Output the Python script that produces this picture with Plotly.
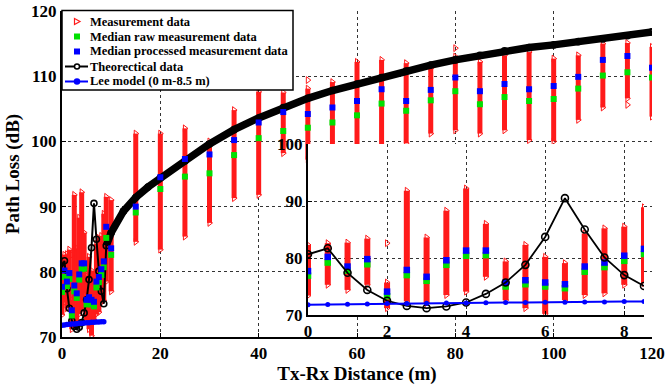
import plotly.graph_objects as go

# ---------------- data ----------------
near_d = [0, 0.5, 1.0, 1.5, 2.0, 2.5, 3.0, 3.5, 4.0, 4.5, 5.0, 5.5, 6.0, 6.5, 7.0, 7.5, 8.0, 8.5]
near_meas_max = [82.3, 82.6, 82.7, 83.4, 75.7, 91.8, 83.6, 88.3, 92.2, 86.0, 79.4, 82.3, 80.2, 79.1, 84.3, 85.2, 85.5, 88.9]
near_meas_min = [73.4, 75.3, 74.4, 75.3, 71.2, 72.4, 72.1, 73.5, 74.1, 76.7, 72.6, 71.2, 70.2, 72.6, 73.5, 73.8, 75.3, 75.6]
near_raw_median = [76.9, 79.2, 77.8, 78.9, 73.3, 77.0, 76.0, 78.8, 80.4, 80.5, 75.0, 75.4, 75.0, 74.7, 77.6, 78.4, 79.5, 80.7]
near_proc_median = [77.7, 80.2, 78.5, 79.8, 74.1, 77.9, 76.7, 79.6, 81.3, 81.3, 75.7, 76.1, 75.7, 75.4, 78.5, 79.2, 80.4, 81.6]
near_theory = [80.65, 81.7, 77.4, 74.4, 72.5, 71.6, 71.2, 71.5, 72.2, 73.7, 75.7, 78.8, 83.7, 90.5, 85.0, 80.1, 77.0, 75.1]
lee_model = [71.8, 71.85, 71.9, 71.95, 72.0, 72.0, 72.05, 72.1, 72.1, 72.15, 72.2, 72.2, 72.25, 72.25, 72.3, 72.3, 72.35, 72.35]

far_d = [9, 10, 15, 20, 25, 30, 35, 40, 45, 50, 55, 60, 65, 70, 75, 80, 85, 90, 95, 100, 105, 110, 115, 120]
far_meas_max = [91.5, 91.0, 101.2, 101.2, 102.0, 100.0, 104.8, 107.6, 107.5, 108.1, 109.1, 112.2, 112.5, 112.0, 111.2, 113.0, 112.2, 113.2, 113.7, 112.7, 113.2, 115.0, 115.1, 114.5]
far_meas_min = [78.5, 77.0, 84.6, 83.4, 85.4, 87.5, 91.3, 91.8, 98.2, 97.2, 98.0, 98.0, 98.5, 99.7, 101.2, 101.7, 101.2, 101.7, 100.2, 100.0, 103.3, 105.2, 106.6, 103.8]
far_raw_median = [85.2, 82.6, 89.1, 92.7, 94.6, 95.1, 97.9, 100.5, 101.6, 102.1, 102.9, 104.0, 105.8, 104.7, 106.3, 107.7, 105.7, 106.8, 106.2, 106.5, 108.1, 110.1, 110.6, 109.8]
far_proc_median = [86.9, 83.6, 90.0, 94.5, 97.3, 98.0, 100.2, 102.9, 104.5, 104.2, 105.2, 106.2, 108.0, 106.2, 107.9, 109.8, 107.7, 108.8, 108.0, 108.5, 109.9, 112.5, 113.1, 111.3]

outlier_d = [2.0, 50, 80, 115]
outlier_val = [82.6, 109.4, 114.3, 105.6]

theory_far_d = [9, 10, 12.5, 15, 17.5, 20, 25, 30, 35, 40, 45, 50, 55, 60, 65, 70, 75, 80, 85, 90, 95, 100, 105, 110, 115, 120]
theory_far = [84.0, 86.0, 89.3, 91.4, 93.0, 94.4, 97.0, 99.6, 101.8, 103.6, 105.2, 106.6, 107.8, 108.8, 109.8, 110.8, 111.7, 112.5, 113.2, 113.9, 114.4, 114.8, 115.3, 115.7, 116.2, 116.8]

x_ticks = [0, 20, 40, 60, 80, 100, 120]
y_ticks = [70, 80, 90, 100, 110, 120]
inset_x_ticks = [0, 2, 4, 6, 8]
inset_y_ticks = [70, 80, 90, 100]

legend_labels = ["Measurement data", "Median raw measurement data",
                 "Median processed measurement data", "Theorectical data",
                 "Lee model (0 m-8.5 m)"]

# ---------------- styling ----------------
RED = "#ff1a1a"
GREEN = "#00e000"
BLUE = "#0000ff"
FONT = "Liberation Serif"

W, H = 665, 388
ML, MR, MT, MB = 62, 13, 11, 51
PW = W - ML - MR
PH = H - MT - MB


def PX(x):
    return (x - ML) / PW


def PY(y):
    return (H - MB - y) / PH


def bar_xy(ds, lo, hi):
    xs, ys = [], []
    for d, a, b in zip(ds, lo, hi):
        xs += [d, d, None]
        ys += [a, b, None]
    return xs, ys


fig = go.Figure()


def add_set(xa, ya, bar_w, sq, circ, lee_sz, theory_w, main):
    all_d = near_d + (far_d if main else [])
    lo = near_meas_min + (far_meas_min if main else [])
    hi = near_meas_max + (far_meas_max if main else [])
    bx, by = bar_xy(all_d, lo, hi)
    fig.add_trace(go.Scatter(x=bx, y=by, mode="lines", xaxis=xa, yaxis=ya,
                             line=dict(color=RED, width=bar_w), showlegend=False,
                             hoverinfo="skip"))
    od = [d for d in outlier_d if (main or d <= 8.5)]
    ov = [v for d, v in zip(outlier_d, outlier_val) if (main or d <= 8.5)]
    fig.add_trace(go.Scatter(x=all_d + all_d + od, y=hi + lo + ov, mode="markers",
                             xaxis=xa, yaxis=ya, showlegend=False,
                             marker=dict(symbol="triangle-right-open", size=6,
                                         color=RED, line=dict(width=1, color=RED))))
    raw = near_raw_median + (far_raw_median if main else [])
    proc = near_proc_median + (far_proc_median if main else [])
    if main:
        fig.add_trace(go.Scatter(x=theory_far_d, y=theory_far, mode="lines",
                                 xaxis=xa, yaxis=ya, showlegend=False,
                                 line=dict(color="black", width=7.5)))
        tx = near_d + theory_far_d
        ty = near_theory + theory_far
        fig.add_trace(go.Scatter(x=tx, y=ty, mode="lines+markers", xaxis=xa, yaxis=ya,
                                 showlegend=False, line=dict(color="black", width=2),
                                 marker=dict(symbol="circle-open", size=circ,
                                             color="black", line=dict(width=1.6))))
    fig.add_trace(go.Scatter(x=all_d, y=raw, mode="markers", xaxis=xa, yaxis=ya,
                             showlegend=False,
                             marker=dict(symbol="square", size=sq, color=GREEN)))
    fig.add_trace(go.Scatter(x=all_d, y=proc, mode="markers", xaxis=xa, yaxis=ya,
                             showlegend=False,
                             marker=dict(symbol="square", size=sq, color=BLUE)))
    if not main:
        fig.add_trace(go.Scatter(x=near_d, y=near_theory, mode="lines+markers",
                                 xaxis=xa, yaxis=ya, showlegend=False,
                                 line=dict(color="black", width=theory_w),
                                 marker=dict(symbol="circle-open", size=circ,
                                             color="black", line=dict(width=1.6))))
    fig.add_trace(go.Scatter(x=near_d, y=lee_model, mode="lines+markers",
                             xaxis=xa, yaxis=ya, showlegend=False,
                             line=dict(color=BLUE, width=2),
                             marker=dict(symbol="circle", size=lee_sz, color=BLUE)))


add_set("x", "y", 5, 6, 6, 5.5, 2, True)
add_set("x2", "y2", 6, 6.5, 7, 5, 1.8, False)

tick_font = dict(family=FONT, size=17, color="black", weight="bold")
title_font = dict(family=FONT, size=19, color="black", weight="bold")
grid = dict(showgrid=True, gridcolor="#333333", griddash="dot", gridwidth=1.2)
common = dict(showline=True, linecolor="black", linewidth=2, ticks="inside",
              ticklen=4, tickcolor="black", zeroline=False, automargin=False,
              tickfont=tick_font)

fig.update_layout(
    width=W, height=H,
    margin=dict(l=ML, r=MR, t=MT, b=MB, autoexpand=False),
    paper_bgcolor="white", plot_bgcolor="white",
    showlegend=False,
    xaxis=dict(domain=[0, 1], range=[0, 120], tickvals=x_ticks,
               title=dict(text="Tx-Rx Distance (m)", font=title_font, standoff=4),
               **common, **grid),
    yaxis=dict(domain=[0, 1], range=[70, 120], tickvals=y_ticks,
               title=dict(text="Path Loss (dB)", font=title_font, standoff=6),
               **common, **grid),
    xaxis2=dict(domain=[PX(308), PX(644)], range=[0, 8.5], anchor="y2",
                tickvals=inset_x_ticks, **common, **grid),
    yaxis2=dict(domain=[PY(315), PY(144)], range=[70, 100], anchor="x2",
                tickvals=inset_y_ticks, **common, **grid),
)

# ---------------- manual legend (compact, like the reference) ----------------
shapes = [dict(type="rect", xref="paper", yref="paper", layer="above",
               x0=PX(62), x1=PX(293), y0=PY(90), y1=PY(10.5),
               fillcolor="white", line=dict(color="black", width=1.5))]
rows = [21.5, 36.5, 51.5, 66.5, 81.5]
sx = 77
t_y = rows[0]
shapes.append(dict(type="path", xref="paper", yref="paper", layer="above",
                   path=f"M {PX(sx-2.5)},{PY(t_y-3)} L {PX(sx+3)},{PY(t_y)} L {PX(sx-2.5)},{PY(t_y+3)} Z",
                   line=dict(color=RED, width=1.2), fillcolor="white"))
for r, c in [(rows[1], GREEN), (rows[2], BLUE)]:
    shapes.append(dict(type="rect", xref="paper", yref="paper", layer="above",
                       x0=PX(sx-3), x1=PX(sx+3), y0=PY(r+3), y1=PY(r-3),
                       fillcolor=c, line=dict(width=0)))
for r, c, filled in [(rows[3], "black", False), (rows[4], BLUE, True)]:
    shapes.append(dict(type="line", xref="paper", yref="paper", layer="above",
                       x0=PX(65), x1=PX(88), y0=PY(r), y1=PY(r),
                       line=dict(color=c, width=2)))
    shapes.append(dict(type="circle", xref="paper", yref="paper", layer="above",
                       x0=PX(sx-2.5), x1=PX(sx+2.5), y0=PY(r+2.5), y1=PY(r-2.5),
                       fillcolor=(c if filled else "white"),
                       line=dict(color=c, width=1.5)))

annotations = []
for r, lab in zip(rows, legend_labels):
    annotations.append(dict(xref="paper", yref="paper", x=PX(89), y=PY(r),
                            xanchor="left", yanchor="middle", showarrow=False,
                            text=lab, borderpad=0,
                            font=dict(family=FONT, size=12.5, color="black", weight="bold")))

fig.update_layout(shapes=shapes, annotations=annotations)

fig.write_html("out.html", config={"displayModeBar": False},
               post_script="document.body.style.margin='0';document.body.style.padding='0';")
